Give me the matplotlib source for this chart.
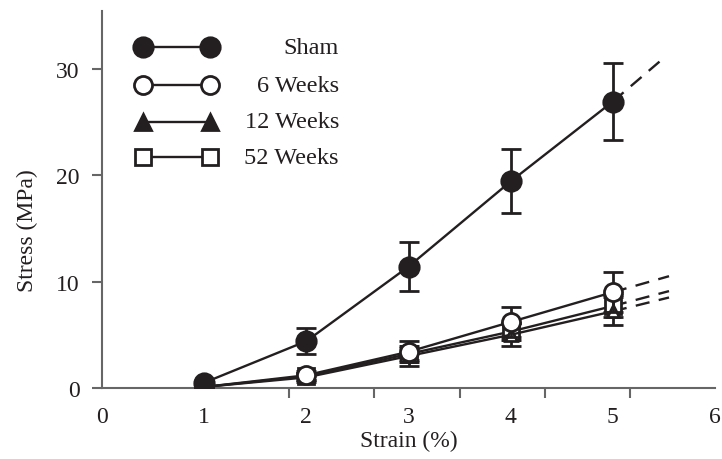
import matplotlib.pyplot as plt
import numpy as np

plt.rcParams['font.family'] = ['Liberation Serif', 'DejaVu Serif']

# strain (%) and stress (MPa)
strain = [1, 2, 3, 4, 5]
labels = ['Sham', '6 Weeks', '12 Weeks', '52 Weeks']
stress = [
    [0.5, 4.4, 11.4, 19.4, 26.9],   # Sham
    [0.1, 1.2, 3.4, 6.2, 9.0],      # 6 weeks
    [0.1, 1.0, 3.0, 5.0, 7.2],      # 12 weeks
    [0.1, 1.1, 3.2, 5.3, 7.7],      # 52 weeks
]
stress_err = [
    [0.3, 1.2, 2.3, 3.0, 3.6],
    [0.2, 0.4, 1.0, 1.4, 1.9],
    [0.2, 0.4, 0.9, 1.1, 1.3],
    [0.2, 0.3, 0.6, 0.8, 1.0],
]
# dashed extrapolation end points
ext_strain = [5.5, 5.55, 5.55, 5.55]
ext_stress = [31.0, 10.5, 8.5, 9.1]

ink = '#231f20'
markers = ['o', 'o', '^', 's']
faces = [ink, 'white', 'white', 'white']
legend_faces = [ink, 'white', ink, 'white']
msizes = [14, 13, 9, 11]
draw_order = [3, 2, 1, 0]  # z-order
fs = 17

fig = plt.figure(figsize=(7.22, 4.60), dpi=100)
ax = fig.add_axes([0.1413, 0.1543, 0.849, 0.8196])

for i in range(4):
    z = 3 + draw_order[i]
    ax.plot([strain[-1], ext_strain[i]], [stress[i][-1], ext_stress[i]],
            color=ink, lw=1.7, dashes=(6, 4), zorder=2)
    ax.errorbar(strain, stress[i], yerr=stress_err[i], color=ink, lw=1.7,
                elinewidth=2, capsize=7, capthick=2, zorder=z,
                marker=markers[i], ms=msizes[i], mfc=faces[i], mec=ink, mew=2)

# right-aligned legend drawn by hand
leg_y = [0.9045, 0.8037, 0.7056, 0.6127]
for i in range(4):
    ax.plot([0.0669, 0.1762], [leg_y[i], leg_y[i]], transform=ax.transAxes,
            color=ink, lw=1.7, marker=markers[i], ms=msizes[i] if i != 2 else 11,
            mfc=legend_faces[i], mec=ink, mew=2, clip_on=False)
    ax.text(0.3866, leg_y[i], labels[i], transform=ax.transAxes, ha='right',
            va='center', fontsize=17.5, color=ink)

ax.set_xlim(0, 6)
ax.set_ylim(0, 35.4)
ax.set_xticks(range(7))
ax.set_xticks(np.linspace(1, 6, 7), minor=True)
ax.set_yticks([0, 10, 20, 30])
ax.tick_params(axis='x', which='major', length=0, pad=13, labelsize=fs, labelcolor=ink)
ax.tick_params(axis='x', which='minor', length=7, width=1.5, color='#666666', direction='out')
ax.tick_params(axis='y', length=7, width=1.5, color='#666666', pad=9, labelsize=fs, labelcolor=ink)

for s in ['top', 'right']:
    ax.spines[s].set_visible(False)
for s in ['left', 'bottom']:
    ax.spines[s].set_color('#666666')
    ax.spines[s].set_linewidth(1.5)

ax.set_xlabel('Strain (%)', fontsize=fs, color=ink, labelpad=2)
ax.set_ylabel('Stress (MPa)', fontsize=fs, color=ink)
ax.yaxis.set_label_coords(-0.105, 0.42)

fig.savefig('out.png', dpi=100)
